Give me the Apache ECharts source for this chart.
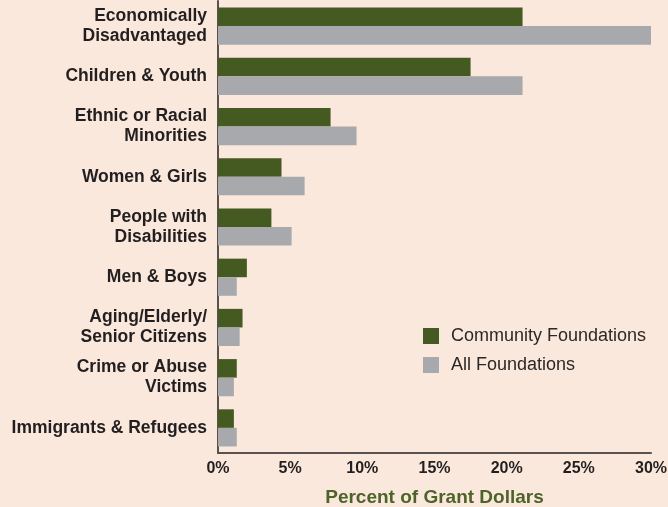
<!DOCTYPE html>
<html><head><meta charset="utf-8">
<script src="https://cdn.jsdelivr.net/npm/echarts@6/dist/echarts.min.js"></script>
<style>html,body{margin:0;padding:0;background:#fae8dc;}#c{width:668px;height:507px;}</style>
</head><body><div id="c"></div>
<script>
const categories = ["Economically\nDisadvantaged","Children & Youth","Ethnic or Racial\nMinorities","Women & Girls","People with\nDisabilities","Men & Boys","Aging/Elderly/\nSenior Citizens","Crime or Abuse\nVictims","Immigrants & Refugees"];
const community = [21.1, 17.5, 7.8, 4.4, 3.7, 2.0, 1.7, 1.3, 1.1];
const allFound = [30.0, 21.1, 9.6, 6.0, 5.1, 1.3, 1.5, 1.1, 1.3];
const xTicks = [0,5,10,15,20,25,30];
const chart = echarts.init(document.getElementById('c'));
const font = '"Liberation Sans", Arial, sans-serif';
chart.setOption({
  backgroundColor:'#fae8dc',
  animation:false,
  textStyle:{fontFamily:font},
  grid:{left:218,right:17,top:1,bottom:54,containLabel:false,outerBoundsMode:'none'},
  legend:{orient:'vertical',left:418,top:322,itemWidth:16,itemHeight:16,itemGap:11,icon:'rect',
    textStyle:{fontSize:18,color:'#2b2727',fontFamily:font,padding:[0,0,0,7]},
    data:['Community Foundations','All Foundations']},
  xAxis:{type:'value',min:xTicks[0],max:xTicks[xTicks.length-1],interval:5,
    axisLine:{show:true,lineStyle:{color:'#58514e',width:2}},axisTick:{show:false},splitLine:{show:false},
    axisLabel:{formatter:'{value}%',fontSize:16,fontWeight:'bold',color:'#231f20',margin:8},
    name:'Percent of Grant Dollars',nameLocation:'middle',nameGap:35,
    nameTextStyle:{fontSize:19,fontWeight:'bold',color:'#4d6428'}},
  yAxis:{type:'category',inverse:true,data:categories,
    axisLine:{show:true,lineStyle:{color:'#58514e',width:2}},axisTick:{show:false},
    axisLabel:{fontSize:17.5,fontWeight:'bold',color:'#231f20',margin:11,lineHeight:20}},
  series:[
    {name:'Community Foundations',type:'bar',data:community,itemStyle:{color:'#455a20'},barGap:'0%',barCategoryGap:'26%'},
    {name:'All Foundations',type:'bar',data:allFound,itemStyle:{color:'#a7a9ac'},barGap:'0%',barCategoryGap:'26%'}
  ]
});
</script></body></html>
